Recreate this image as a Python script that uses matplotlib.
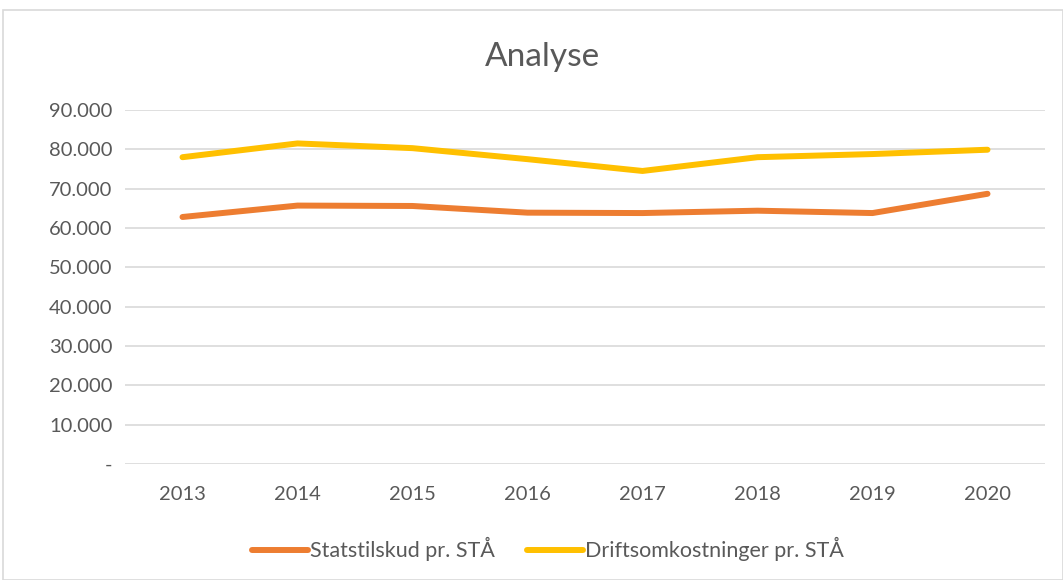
import matplotlib
matplotlib.use("Agg")
import matplotlib.pyplot as plt
from matplotlib.patches import Rectangle
from matplotlib.ticker import FuncFormatter

years = ["2013", "2014", "2015", "2016", "2017", "2018", "2019", "2020"]
statstilskud = [62800, 65700, 65600, 63900, 63800, 64400, 63800, 68700]
driftsomk = [78000, 81500, 80300, 77500, 74500, 78000, 78800, 79900]
yticks = [0, 10000, 20000, 30000, 40000, 50000, 60000, 70000, 80000, 90000]

plt.rcParams['font.family'] = ['Lato', 'DejaVu Sans']
txt = '#595959'

fig = plt.figure(figsize=(10.63, 5.8), dpi=100)
ax = fig.add_axes([125/1063, 1-464/580, 920/1063, (464-110)/580])

x = list(range(len(years)))
ax.plot(x, statstilskud, color='#ED7D31', lw=4.3, solid_capstyle='round', label='Statstilskud pr. STÅ')
ax.plot(x, driftsomk, color='#FFC000', lw=4.3, solid_capstyle='round', label='Driftsomkostninger pr. STÅ')

ax.set_xlim(-0.5, len(years) - 0.5)
ax.set_ylim(0, 90000)
ax.set_yticks(yticks)
ax.yaxis.set_major_formatter(FuncFormatter(lambda v, p: '-' if v == 0 else f"{int(v):,}".replace(',', '.')))
ax.set_xticks(x)
ax.set_xticklabels(years)
ax.grid(axis='y', color='#D9D9D9', lw=1.2)
ax.set_axisbelow(True)
for s in ax.spines.values():
    s.set_visible(False)
ax.tick_params(axis='both', length=0, colors=txt, labelsize=14.5)
ax.tick_params(axis='y', pad=9)
ax.tick_params(axis='x', pad=16)

fig.text(542/1063, 1-57/580, 'Analyse', ha='center', va='center', fontsize=24, color=txt)

leg = fig.legend(loc='center', bbox_to_anchor=(548/1063, 1-549/580), ncol=2, frameon=False,
                 fontsize=15.5, handlelength=2.6, handletextpad=0.1, columnspacing=1.5)
for t in leg.get_texts():
    t.set_color(txt)

fig.patches.append(Rectangle((3/1063, 0), 1 - 3/1063, 1 - 10/580, transform=fig.transFigure,
                             fill=False, edgecolor='#D9D9D9', lw=1.2))

fig.savefig('out.png', dpi=100)
